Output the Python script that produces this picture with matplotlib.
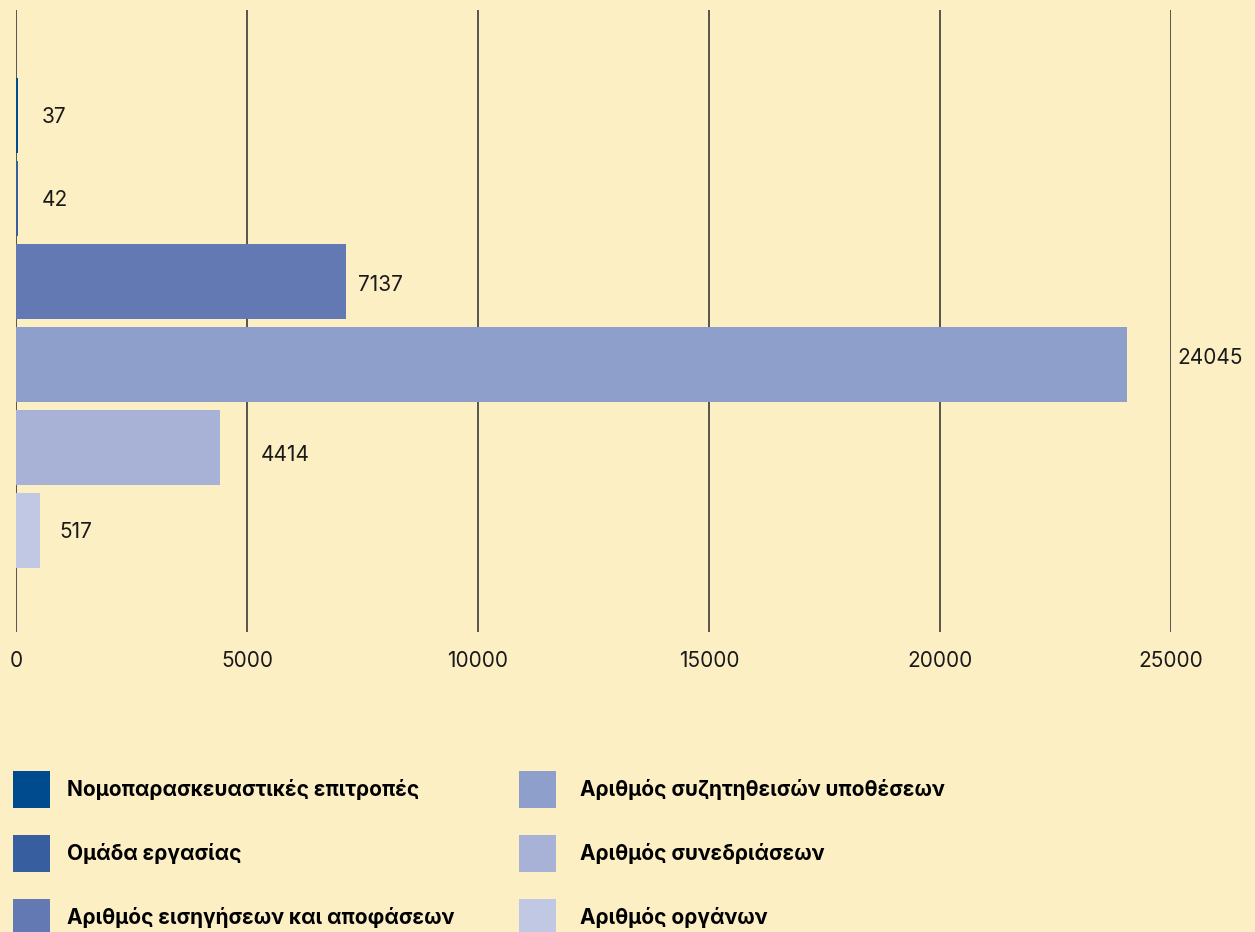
import matplotlib.pyplot as plt
from matplotlib.patches import Patch

# data
categories = [
    "Νομοπαρασκευαστικές επιτροπές",
    "Ομάδα εργασίας",
    "Αριθμός εισηγήσεων και αποφάσεων",
    "Αριθμός συζητηθεισών υποθέσεων",
    "Αριθμός συνεδριάσεων",
    "Αριθμός οργάνων",
]
values = [37, 42, 7137, 24045, 4414, 517]
colors = ["#004b8d", "#375f9f", "#6279b3", "#8e9fcb", "#a8b2d6", "#c0c8e4"]
xticks = [0, 5000, 10000, 15000, 20000, 25000]

# label offsets in pixels (as laid out in the original)
label_dx = [24, 24, 12, 50, 41, 19]
label_dy = [-2, -1, -3, 7, -7, -1]

bg = "#fdefc4"
plt.rcParams['font.family'] = ['Inter', 'DejaVu Sans']

fig = plt.figure(figsize=(12.55, 9.32), dpi=100, facecolor=bg)
ax = fig.add_axes([16 / 1255, 1 - 632 / 932, 1155 / 1255, 622 / 932])
ax.set_facecolor(bg)

ypos = list(range(len(values)))
ax.barh(ypos, values, height=0.9, color=colors, zorder=3)

for y, v, dx, dy in zip(ypos, values, label_dx, label_dy):
    ax.annotate(str(v), (v, y), xytext=(dx, dy), textcoords='offset pixels',
                ha='left', va='center', fontsize=15, color='#1a1a1a')

ax.set_xlim(0, 25000)
ax.set_ylim(6.22, -1.27)
ax.set_xticks(xticks)
ax.set_xticklabels([str(t) for t in xticks])
ax.set_yticks([])
ax.tick_params(axis='x', length=0, pad=14, labelsize=15, labelcolor='#1a1a1a')
ax.grid(axis='x', color='#3a3a3a', linewidth=1.2, zorder=0)
ax.set_axisbelow(True)
for s in ax.spines.values():
    s.set_visible(False)

handles = [Patch(facecolor=c, edgecolor='none') for c in colors]
leg_kw = dict(frameon=False, loc='upper left', borderpad=0,
              borderaxespad=0, handlelength=1.78, handleheight=2.36,
              labelspacing=1.3,
              prop={'family': ['Inter', 'DejaVu Sans'], 'weight': 'bold', 'size': 15})
leg1 = fig.legend(handles[:3], categories[:3], handletextpad=0.8,
                  bbox_to_anchor=(13 / 1255, 1 - 771 / 932), **leg_kw)
leg2 = fig.legend(handles[3:], categories[3:], handletextpad=1.15,
                  bbox_to_anchor=(519 / 1255, 1 - 771 / 932), **leg_kw)

fig.savefig("out.png", dpi=100, facecolor=bg)
